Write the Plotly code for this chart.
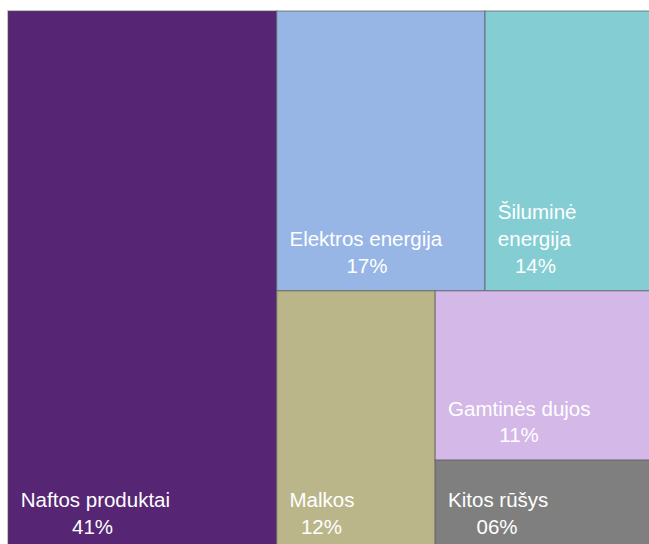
import plotly.graph_objects as go

labels = ["Naftos produktai", "Elektros energija", "Šiluminė energija", "Malkos", "Gamtinės dujos", "Kitos rūšys"]
label_lines = [["Naftos produktai"], ["Elektros energija"], ["Šiluminė", "energija"],
               ["Malkos"], ["Gamtinės dujos"], ["Kitos rūšys"]]
# shares estimated from tile areas (displayed as rounded percentages)
values = [41.4, 16.6, 13.7, 11.8, 10.7, 5.8]
pct_text = ["41%", "17%", "14%", "12%", "11%", "06%"]
colors = ["#562674", "#97B6E6", "#84CED3", "#BBB68A", "#D4B8E8", "#7F7F7F"]

# approximate Liberation Sans advance widths (em) for centring the label lines
W = {"a": .556, "b": .556, "d": .556, "e": .556, "f": .278, "g": .556, "i": .222, "j": .222,
     "k": .5, "l": .222, "m": .833, "n": .556, "o": .556, "p": .556, "r": .333, "s": .5,
     "t": .278, "u": .556, "y": .5, "ė": .556, "ū": .556, "š": .5, " ": .278, "N": .722,
     "E": .667, "Š": .667, "G": .778, "M": .833, "K": .667, "%": .889}
NB = "\u00a0"
SP = 0.278


def width(s):
    return sum(W.get(c, .556) for c in s)


def block(lines):
    mw = max(width(l) for l in lines)
    out = []
    for l in lines:
        n = int(round((mw - width(l)) / 2 / SP))
        out.append(NB + "\u2009" + NB * n + l)
    # invisible tall spacer on the last line lifts the block off the tile bottom
    out[-1] += "<span style='font-size:70px'>" + NB + "</span>"
    return "<br>".join(out)


texts = [block(ll + [p]) for ll, p in zip(label_lines, pct_text)]

fig = go.Figure(go.Treemap(
    labels=labels,
    parents=[""] * len(labels),
    values=values,
    text=texts,
    textinfo="text",
    textposition="bottom left",
    textfont=dict(family="Liberation Sans, Arial, sans-serif", size=20.5, color="white"),
    marker=dict(colors=colors, line=dict(width=1.5, color="rgba(80,80,80,0.45)"),
                pad=dict(t=0, l=0, r=0, b=0)),
    tiling=dict(packing="squarify", pad=0),
    pathbar=dict(visible=False),
    sort=True,
    hoverinfo="label+value",
))

fig.update_layout(
    width=657, height=552,
    margin=dict(l=8, r=0, t=11, b=0),
    paper_bgcolor="white",
)

# the chart is cropped by the page frame on the right and bottom edges
page_css = (
    "document.documentElement.style.overflow='hidden';"
    "document.body.style.overflow='hidden';"
    "document.body.style.margin='0';"
)

fig.write_html("out.html", config={"responsive": False, "displayModeBar": False},
               post_script=page_css)
